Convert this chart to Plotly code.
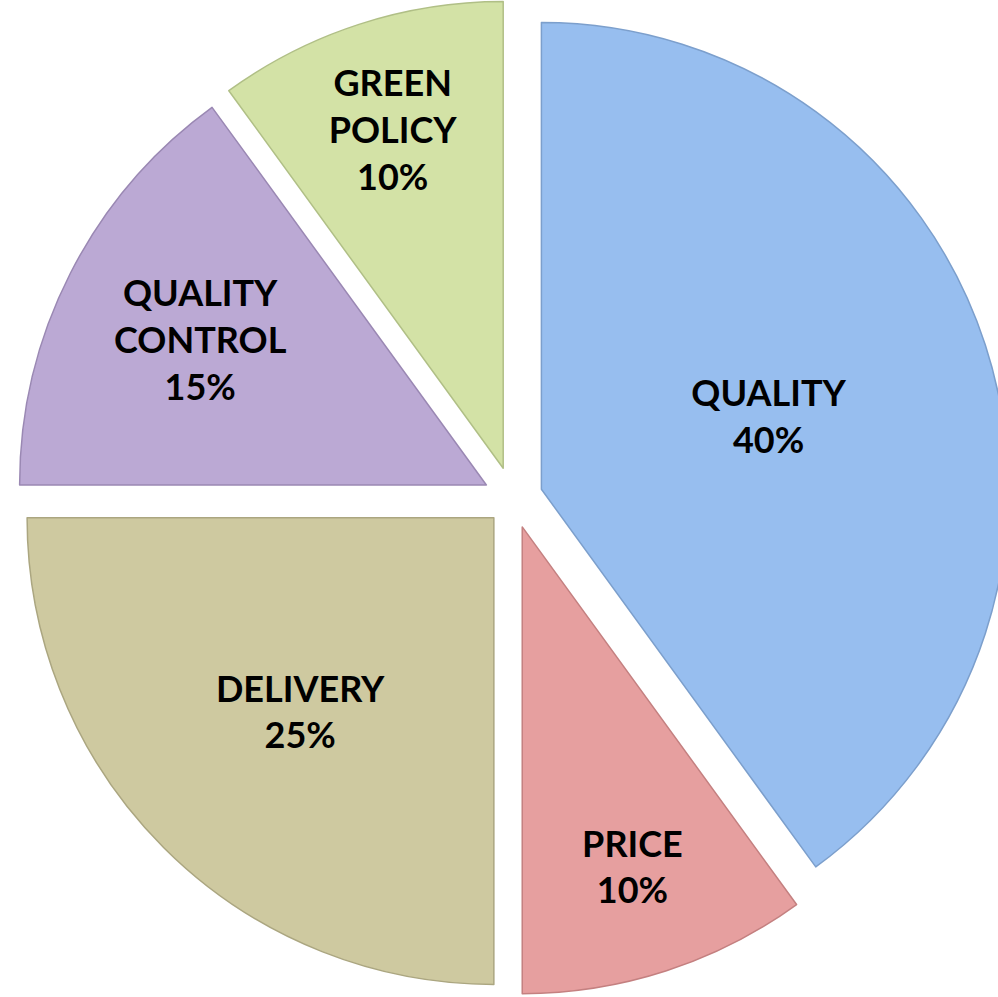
import plotly.graph_objects as go

labels = ["QUALITY", "PRICE", "DELIVERY", "QUALITY<br>CONTROL", "GREEN<br>POLICY"]
values = [40, 10, 25, 15, 10]
colors = ["#97BEEF", "#E69F9F", "#CEC9A0", "#BBA9D4", "#D3E2A6"]
edge_colors = ["#7C9FCC", "#C48080", "#ABA680", "#9A88B3", "#B0BF86"]
pulls = [0.064, 0.064, 0.058, 0.064, 0.068]

fig = go.Figure(go.Pie(
    labels=labels,
    values=values,
    sort=False,
    direction="clockwise",
    rotation=0,
    pull=pulls,
    marker=dict(colors=colors, line=dict(color=edge_colors, width=1.5)),
    texttemplate="%{label}<br>%{percent:.0%}",
    textposition="inside",
    insidetextorientation="horizontal",
    textfont=dict(family="Lato", size=36, color="black", weight="bold"),
    hoverinfo="label+percent",
    showlegend=False,
))

fig.update_layout(
    width=1026,
    height=997,
    margin=dict(l=0, r=0, t=0, b=0),
    paper_bgcolor="white",
    plot_bgcolor="white",
    showlegend=False,
    uniformtext=dict(minsize=36, mode="show"),
)

fig.write_html(
    "out.html",
    config={"displayModeBar": False},
    post_script="document.body.style.margin='0';document.body.style.overflow='hidden';",
)
